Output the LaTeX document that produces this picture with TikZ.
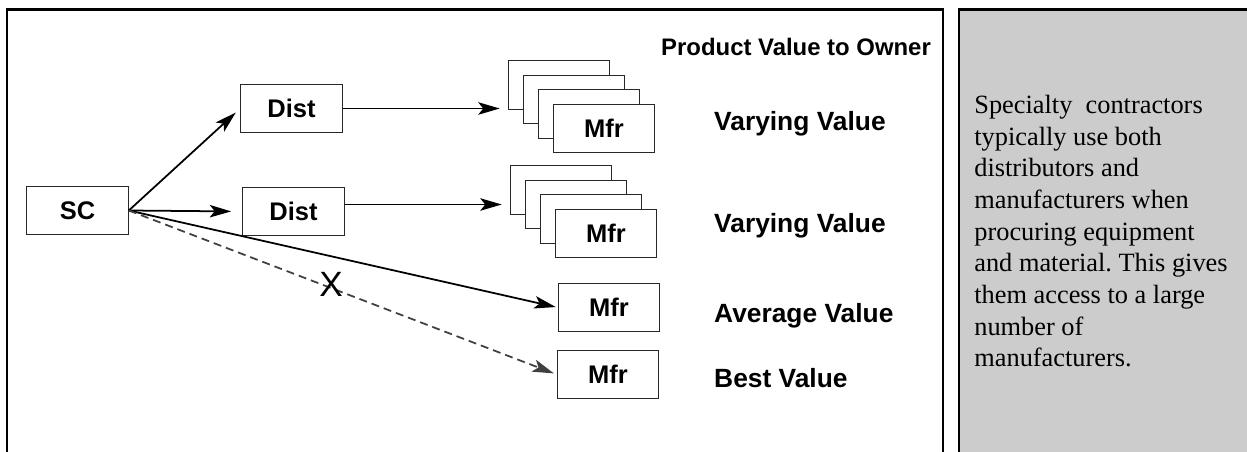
\documentclass[tikz,border=0pt]{standalone}
\usepackage{fontspec}
\setmainfont{Liberation Serif}
\setsansfont{Liberation Sans}
\usetikzlibrary{arrows.meta}
\definecolor{panelgray}{RGB}{204,204,204}
\definecolor{boxline}{RGB}{40,40,40}

\begin{document}
\frenchspacing
\begin{tikzpicture}[
		box/.style={draw=boxline, line width=0.6pt, rectangle, fill=white,
			minimum width=2.03cm, minimum height=0.97cm,
			font=\sffamily\bfseries\fontsize{14.5}{17}\selectfont},
		valuelabel/.style={anchor=base west, font=\sffamily\bfseries\fontsize{15}{18}\selectfont},
		arr/.style={line width=1pt, -{Stealth[length=4.3mm, width=2.5mm, inset=1mm]}},
		frameline/.style={line width=1.5pt}
	]
		\useasboundingbox (0,0) rectangle (24.94,-9.04);
		\def\sx{0.3}  % Horizontal offset between stacked boxes
		\def\sy{0.29} % Vertical offset between stacked boxes
		
		% Frames
		\draw[frameline] (0.14,-9.04) -- (0.14,-0.19) -- (18.86,-0.19) -- (18.86,-9.04);
		\fill[panelgray] (19.18,-0.19) rectangle (24.94,-9.04);
		\draw[frameline] (19.18,-9.04) -- (19.18,-0.19) -- (24.94,-0.19);
		
		\node[box] (sc) at (1.55,-4.21) {SC};
		\node[box] (dist1) at (5.83,-2.17) {Dist};
		\node[box] (dist2) at (5.87,-4.23) {Dist};
		
		% Stacks of manufacturers, back box first
		\foreach \s/\x/\y in {1/12.08/-2.57, 2/12.12/-4.67} {
			\foreach \k in {3,2,1} {
				\node[box] (s\s m\k) at (\x-\k*\sx, \y+\k*\sy) {};
			}
			\node[box] (s\s m0) at (\x, \y) {Mfr};
		}
		\node[box] (mfravg) at (12.18,-6.15) {Mfr};
		\node[box] (mfrbest) at (12.16,-7.49) {Mfr};
		
		\node[anchor=base west, font=\sffamily\bfseries\fontsize{13.6}{16}\selectfont] (owner) at (13.1,-1.12) {Product Value to Owner};
		\node[valuelabel] (vary1) at (14.16,-2.62) {Varying Value};
		\node[valuelabel] (vary2) at (14.16,-4.66) {Varying Value};
		\node[valuelabel] (avg) at (14.16,-6.44) {Average Value};
		\node[valuelabel] (best) at (14.16,-7.74) {Best Value};
		
		\draw[arr, shorten >=0.12cm] (sc.east) -- (dist1.west);
		\draw[arr, shorten >=0.22cm] (sc.east) -- (dist2.west);
		\draw[arr, shorten >=0.04cm] (sc.east) -- (mfravg.west);
		\draw[arr, black!75, dash pattern=on 0.16cm off 0.1cm, shorten >=0.06cm] (sc.east) -- (mfrbest.west);
		\draw[arr, shorten >=0.16cm] (dist1.east) -- (dist1.east -| s1m3.west);
		\draw[arr, shorten >=0.16cm] (dist2.east |- s2m2) -- (s2m3.west |- s2m2);
		
		\node[font=\sffamily\fontsize{20}{24}\selectfont] (cross) at (6.62,-5.68) {X};
		
		\node[anchor=north west, align=left, inner sep=0pt, font=\rmfamily\fontsize{15}{18}\selectfont] (note) at (19.48,-1.9)
		{Specialty\ \ contractors\\ typically use both\\ distributors and\\ manufacturers when\\ procuring equipment\\ and material. This gives\\ them access to a large\\ number of\\ manufacturers.};
	\end{tikzpicture}
\end{document}
